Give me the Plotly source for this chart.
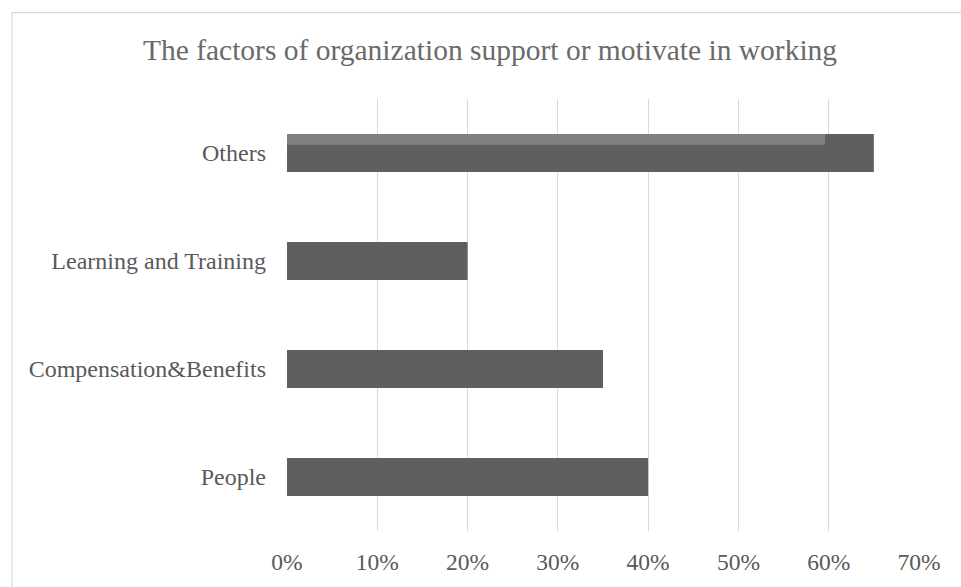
import plotly.graph_objects as go

# Survey results: share of respondents naming each factor
categories = ["People", "Compensation&Benefits", "Learning and Training", "Others"]
shares = [0.40, 0.35, 0.20, 0.65]
# secondary series shown as a thin band on top of the "Others" bar
highlight_shares = [None, None, None, 0.596]
tick_values = [0, 0.1, 0.2, 0.3, 0.4, 0.5, 0.6, 0.7]

title_text = "The factors of organization support or motivate in working"

W, H = 961, 587
L, R, T, B = 287, 42, 99, 53
plot_w = W - L - R
plot_h = H - T - B

font_family = "Liberation Serif, Times New Roman, serif"
text_color = "#595959"
title_color = "#6a6a6a"
grid_color = "#d9d9d9"

BAR_W = 0.354
BAND_W = 0.101

fig = go.Figure()
fig.add_trace(go.Bar(
    y=categories, x=shares, orientation="h",
    width=BAR_W,
    marker=dict(color="#5f5f5f", line=dict(width=0)),
    hoverinfo="x+y",
))
fig.add_trace(go.Bar(
    y=categories, x=highlight_shares, orientation="h",
    width=BAND_W, offset=BAR_W / 2 - BAND_W,
    marker=dict(color="#7f7f7f", line=dict(width=0)),
    hoverinfo="x+y",
))


def px_to_paper_x(px):
    return (px - L) / plot_w


def px_to_paper_y(py):
    return 1 - (py - T) / plot_h


# chart-area frame (extends past the right and bottom of the page)
fig.add_shape(
    type="rect", xref="paper", yref="paper",
    x0=px_to_paper_x(12), x1=px_to_paper_x(968),
    y0=px_to_paper_y(600), y1=px_to_paper_y(12),
    line=dict(color=grid_color, width=1.2), fillcolor="rgba(0,0,0,0)",
    layer="below",
)

fig.update_layout(
    width=W, height=H,
    margin=dict(l=L, r=R, t=T, b=B, pad=0),
    paper_bgcolor="white", plot_bgcolor="rgba(0,0,0,0)",
    barmode="overlay",
    showlegend=False,
    font=dict(family=font_family, color=text_color, size=24),
    title=dict(
        text=title_text,
        font=dict(family=font_family, color=title_color, size=29.5),
        xref="container", x=490 / W, xanchor="center",
        yref="container", y=1 - 50 / H, yanchor="middle",
    ),
    xaxis=dict(
        range=[0, 0.7], tickvals=tick_values, tickformat=".0%",
        showgrid=True, gridcolor=grid_color, gridwidth=1.3,
        zeroline=False, showline=False, ticks="",
        ticklabelstandoff=14,
        tickfont=dict(size=23.5),
        fixedrange=True,
    ),
    yaxis=dict(
        type="category", categoryorder="array", categoryarray=categories,
        range=[-0.5, 3.5],
        showgrid=False, zeroline=False, showline=False, ticks="",
        ticklabelstandoff=20,
        tickfont=dict(size=24),
        fixedrange=True,
    ),
)

fig.write_html("out.html")
